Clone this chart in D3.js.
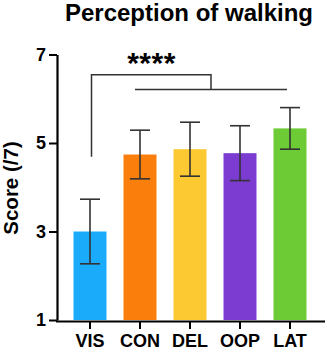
<!DOCTYPE html>
<html><head><meta charset="utf-8">
<script src="https://cdn.jsdelivr.net/npm/d3@7"></script>
<style>body{margin:0;background:#fff}svg{display:block}text{font-family:"Liberation Sans",Arial,sans-serif;font-weight:bold}</style>
</head><body>
<svg id="c" width="325" height="352"></svg>
<script>
const categories = ["VIS","CON","DEL","OOP","LAT"];
const means = [3.0, 4.74, 4.86, 4.77, 5.33];
const errors = [0.73, 0.55, 0.61, 0.62, 0.47];
const colors = ["#1BABFB","#FA7E0C","#FDC932","#7C3BD1","#6DCB36"];
const yTicks = [1,3,5,7];
const title = "Perception of walking";
const yLabel = "Score (/7)";
// significance bracket: VIS vs others
const sigFrom = "VIS";
const sigTo = ["CON","LAT"];
const sigLevels = [6.54, 6.21, 4.69]; // top bar, lower bar, left leg end
const sigText = "****";

const svg = d3.select("#c");
const x = d3.scaleBand().domain(categories).range([65,315]).paddingInner(0.34).paddingOuter(0.17);
const y = d3.scaleLinear().domain([1,7]).range([320,54.5]);

svg.append("text").attr("x",189).attr("y",21).attr("text-anchor","middle")
  .style("font-size","24px").text(title);

svg.append("text").attr("transform","translate(18,188) rotate(-90)").attr("text-anchor","middle")
  .style("font-size","20.5px").text(yLabel);

// bars
svg.selectAll("rect.bar").data(categories).join("rect").attr("class","bar")
  .attr("x",d=>x(d)).attr("width",x.bandwidth())
  .attr("y",(d,i)=>y(means[i])).attr("height",(d,i)=>y(1)-y(means[i]))
  .attr("fill",(d,i)=>colors[i]);

// error bars
const eg = svg.append("g").attr("stroke","#333").attr("stroke-width",1.6).attr("fill","none");
categories.forEach((c,i)=>{
  const cx = x(c)+x.bandwidth()/2;
  eg.append("line").attr("x1",cx).attr("x2",cx).attr("y1",y(means[i]+errors[i])).attr("y2",y(means[i]-errors[i]));
  eg.append("line").attr("x1",cx-10).attr("x2",cx+10).attr("y1",y(means[i]+errors[i])).attr("y2",y(means[i]+errors[i]));
  eg.append("line").attr("x1",cx-10).attr("x2",cx+10).attr("y1",y(means[i]-errors[i])).attr("y2",y(means[i]-errors[i]));
});

// axes
const yAxis = svg.append("g").attr("transform","translate(57,0)")
  .call(d3.axisLeft(y).tickValues(yTicks).tickFormat(d3.format("d")).tickSize(8).tickPadding(3).tickSizeOuter(0));
yAxis.select(".domain").attr("stroke","#000").attr("stroke-width",2.2);
yAxis.selectAll(".tick line").attr("stroke","#000").attr("stroke-width",2);
yAxis.selectAll(".tick text").style("font-size","18px").attr("fill","#000").style("font-family","Liberation Sans, Arial, sans-serif").style("font-weight","bold");

const xAxis = svg.append("g").attr("transform","translate(0,321)")
  .call(d3.axisBottom(x).tickSize(8).tickPadding(5).tickSizeOuter(0));
xAxis.select(".domain").attr("d","M56,0.5H325").attr("stroke","#000").attr("stroke-width",2.2);
xAxis.selectAll(".tick line").attr("stroke","#000").attr("stroke-width",2);
xAxis.selectAll(".tick text").style("font-size","18px").attr("fill","#000").style("font-family","Liberation Sans, Arial, sans-serif").style("font-weight","bold");

// significance bracket
const cxOf = c => x(c)+x.bandwidth()/2;
const x0 = cxOf(sigFrom), xa = cxOf(sigTo[0]) - 5, xb = cxOf(sigTo[1]) - 3;
const xm = (xa+xb)/2;
const sg = svg.append("g").attr("stroke","#333").attr("stroke-width",1.5).attr("fill","none");
sg.append("path").attr("d",`M${x0+1.5},${y(sigLevels[2])}V${y(sigLevels[0])}H${xm}V${y(sigLevels[1])}`);
sg.append("line").attr("x1",xa).attr("x2",xb).attr("y1",y(sigLevels[1])).attr("y2",y(sigLevels[1]));
svg.append("text").attr("x",(x0+xm)/2+1).attr("y",y(sigLevels[0])-1.5).attr("text-anchor","middle")
  .style("font-size","30px").style("letter-spacing","0.5px").text(sigText);
</script>
</body></html>
